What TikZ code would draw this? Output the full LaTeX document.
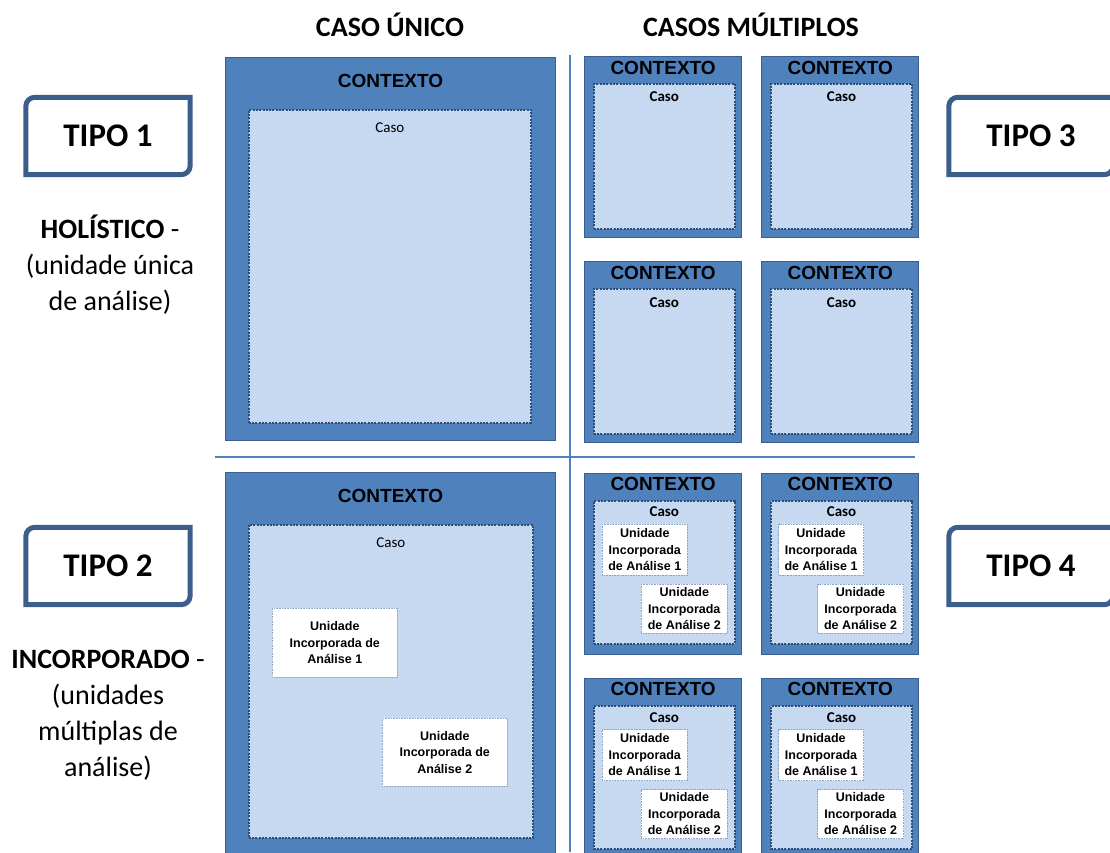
\documentclass[tikz,border=0pt]{standalone}
\usepackage{fontspec}
\setmainfont{Carlito}
\newfontfamily\arialfont{Liberation Sans}
\usetikzlibrary{positioning,calc}

\definecolor{ctxblue}{HTML}{4F81BD}
\definecolor{ctxline}{HTML}{3A5F8F}
\definecolor{casefill}{HTML}{C6D9F1}
\definecolor{caseline}{HTML}{2C4D75}
\definecolor{unitline}{HTML}{8EA6C6}
\definecolor{tipoblue}{HTML}{3C5E8A}

\tikzset{
  ctx/.style={draw=ctxline, fill=ctxblue, line width=1.2pt, inner sep=0pt, anchor=north west},
  caso/.style={draw=caseline, fill=casefill, line width=1.6pt, dash pattern=on 2pt off 1.3pt, inner sep=0pt, anchor=north west},
  unit/.style={draw=unitline, fill=white, line width=0.6pt, densely dotted, inner sep=0pt, anchor=north west, align=center, font=\arialfont\bfseries\fontsize{12.5}{16.5}\selectfont},
  ctxtext/.style={inner sep=0pt, font=\arialfont\bfseries\fontsize{19}{22}\selectfont},
  casotext/.style={inner sep=0pt, font=\fontsize{15}{18}\selectfont},
  casotextb/.style={inner sep=0pt, font=\bfseries\fontsize{15}{18}\selectfont},
  tipotext/.style={inner sep=0pt, minimum width=164pt, minimum height=77pt, font=\bfseries\fontsize{33}{36}\selectfont},
  tipoline/.style={draw=tipoblue, line width=5pt},
  sidetext/.style={inner sep=0pt, align=center, font=\fontsize{28}{36}\selectfont},
  headtext/.style={inner sep=0pt, font=\bfseries\fontsize{28}{32}\selectfont},
  divider/.style={draw=ctxblue, line width=2.5pt},
}

% frame of a TIPO box: round top left and bottom right only
\newcommand\tipoframe[1]{%
  \draw[tipoline] (#1.north east) -- ([yshift=9pt]#1.south east)
    arc[start angle=0, end angle=-90, radius=9pt] -- (#1.south west)
    -- ([yshift=-9pt]#1.north west) arc[start angle=180, end angle=90, radius=9pt] -- cycle;}

\begin{document}
\begin{tikzpicture}[x=1pt, y=-1pt]
	\useasboundingbox (0,0) rectangle (1110,852);

	% headers
	\node[headtext] (hu) at (390,25) {CASO ÚNICO};
	\node[headtext] (hm) at (751,25) {CASOS MÚLTIPLOS};

	% dividers
	\coordinate (vtop) at (570,55);
	\coordinate (vbot) at (570,852);
	\coordinate (hl) at (215,457);
	\coordinate (hr) at (915,457);
	\draw[divider] (vtop) -- (vbot);
	\draw[divider] (hl) -- (hr);

	% tipo boxes
	\node[tipotext] (t1) at (108,136) {TIPO 1};
	\node[tipotext] (t2) at (108,566) {TIPO 2};
	\node[tipotext] (t3) at (1031,136) {TIPO 3};
	\node[tipotext] (t4) at (1031,566) {TIPO 4};
	\tipoframe{t1} \tipoframe{t2} \tipoframe{t3} \tipoframe{t4}

	\node[sidetext] (d1) at (110,265) {\textbf{HOLÍSTICO} -\\(unidade única\\de análise)};
	\node[sidetext] (d2) at (108,715) {\textbf{INCORPORADO} -\\(unidades\\múltiplas de\\análise)};

	% caso unico, holistico
	\node[ctx, minimum width=330pt, minimum height=383pt] (b1) at (225,57) {};
	\node[ctxtext] (b1k) at ([yshift=-24pt]b1.north) {CONTEXTO};
	\node[caso, minimum width=282pt, minimum height=313pt] (b1c) at ([shift={(23,52)}]b1.north west) {};
	\node[casotext] at ([yshift=-19pt]b1c.north) {Caso};

	% caso unico, incorporado
	\node[ctx, minimum width=330pt, minimum height=383pt] (b2) at (225,472) {};
	\node[ctxtext] (b2k) at ([yshift=-24pt]b2.north) {CONTEXTO};
	\node[caso, minimum width=284pt, minimum height=313pt] (b2c) at ([shift={(23,52)}]b2.north west) {};
	\node[casotext] at ([yshift=-19pt]b2c.north) {Caso};
	\node[unit, minimum width=125pt, minimum height=69pt] (b2u1) at (272,608) {Unidade\\Incorporada de\\Análise 1};
	\node[unit, minimum width=125pt, minimum height=68pt] (b2u2) at (382,718) {Unidade\\Incorporada de\\Análise 2};

	% casos multiplos, holistico
	\node[ctx, minimum width=157pt, minimum height=181pt] (s1) at (584,56) {};
	\node[ctx, minimum width=157pt, minimum height=181pt, right=19pt of s1] (s2) {};
	\node[ctx, minimum width=157pt, minimum height=181pt, below=23pt of s1] (s3) {};
	\node[ctx, minimum width=157pt, minimum height=181pt, right=19pt of s3] (s4) {};
	\node[ctxtext] at ([yshift=-12pt]s1.north) {CONTEXTO};
	\node[ctxtext] at ([yshift=-12pt]s2.north) {CONTEXTO};
	\node[ctxtext] at ([yshift=-12pt]s3.north) {CONTEXTO};
	\node[ctxtext] at ([yshift=-12pt]s4.north) {CONTEXTO};
	\node[caso, minimum width=141pt, minimum height=145pt] (s1c) at ([shift={(9,27)}]s1.north west) {};
	\node[caso, minimum width=141pt, minimum height=145pt] (s2c) at ([shift={(9,27)}]s2.north west) {};
	\node[caso, minimum width=141pt, minimum height=145pt] (s3c) at ([shift={(9,27)}]s3.north west) {};
	\node[caso, minimum width=141pt, minimum height=145pt] (s4c) at ([shift={(9,27)}]s4.north west) {};
	\node[casotextb] at ([yshift=-14pt]s1c.north) {Caso};
	\node[casotextb] at ([yshift=-14pt]s2c.north) {Caso};
	\node[casotextb] at ([yshift=-14pt]s3c.north) {Caso};
	\node[casotextb] at ([yshift=-14pt]s4c.north) {Caso};

	% casos multiplos, incorporado
	\node[ctx, minimum width=157pt, minimum height=181pt] (m1) at (584,473) {};
	\node[ctx, minimum width=157pt, minimum height=181pt, right=19pt of m1] (m2) {};
	\node[ctx, minimum width=157pt, minimum height=181pt, below=23pt of m1] (m3) {};
	\node[ctx, minimum width=157pt, minimum height=181pt, right=19pt of m3] (m4) {};
	\node[ctxtext] at ([yshift=-11pt]m1.north) {CONTEXTO};
	\node[ctxtext] at ([yshift=-11pt]m2.north) {CONTEXTO};
	\node[ctxtext] at ([yshift=-11pt]m3.north) {CONTEXTO};
	\node[ctxtext] at ([yshift=-11pt]m4.north) {CONTEXTO};
	\node[caso, minimum width=141pt, minimum height=143pt] (m1c) at ([shift={(9,27)}]m1.north west) {};
	\node[caso, minimum width=141pt, minimum height=143pt] (m2c) at ([shift={(9,27)}]m2.north west) {};
	\node[caso, minimum width=141pt, minimum height=143pt] (m3c) at ([shift={(9,27)}]m3.north west) {};
	\node[caso, minimum width=141pt, minimum height=143pt] (m4c) at ([shift={(9,27)}]m4.north west) {};
	\node[casotextb] at ([yshift=-12pt]m1c.north) {Caso};
	\node[casotextb] at ([yshift=-12pt]m2c.north) {Caso};
	\node[casotextb] at ([yshift=-12pt]m3c.north) {Caso};
	\node[casotextb] at ([yshift=-12pt]m4c.north) {Caso};
	\node[unit, minimum width=85pt, minimum height=51pt] (m1u1) at ([shift={(18,51)}]m1.north west) {Unidade\\Incorporada\\de Análise 1};
	\node[unit, minimum width=86pt, minimum height=49pt] (m1u2) at ([shift={(57,111)}]m1.north west) {Unidade\\Incorporada\\de Análise 2};
	\node[unit, minimum width=85pt, minimum height=51pt] (m2u1) at ([shift={(17,51)}]m2.north west) {Unidade\\Incorporada\\de Análise 1};
	\node[unit, minimum width=86pt, minimum height=49pt] (m2u2) at ([shift={(56,111)}]m2.north west) {Unidade\\Incorporada\\de Análise 2};
	\node[unit, minimum width=85pt, minimum height=51pt] (m3u1) at ([shift={(18,51)}]m3.north west) {Unidade\\Incorporada\\de Análise 1};
	\node[unit, minimum width=86pt, minimum height=49pt] (m3u2) at ([shift={(57,111)}]m3.north west) {Unidade\\Incorporada\\de Análise 2};
	\node[unit, minimum width=85pt, minimum height=51pt] (m4u1) at ([shift={(17,51)}]m4.north west) {Unidade\\Incorporada\\de Análise 1};
	\node[unit, minimum width=86pt, minimum height=49pt] (m4u2) at ([shift={(56,111)}]m4.north west) {Unidade\\Incorporada\\de Análise 2};
\end{tikzpicture}
\end{document}
